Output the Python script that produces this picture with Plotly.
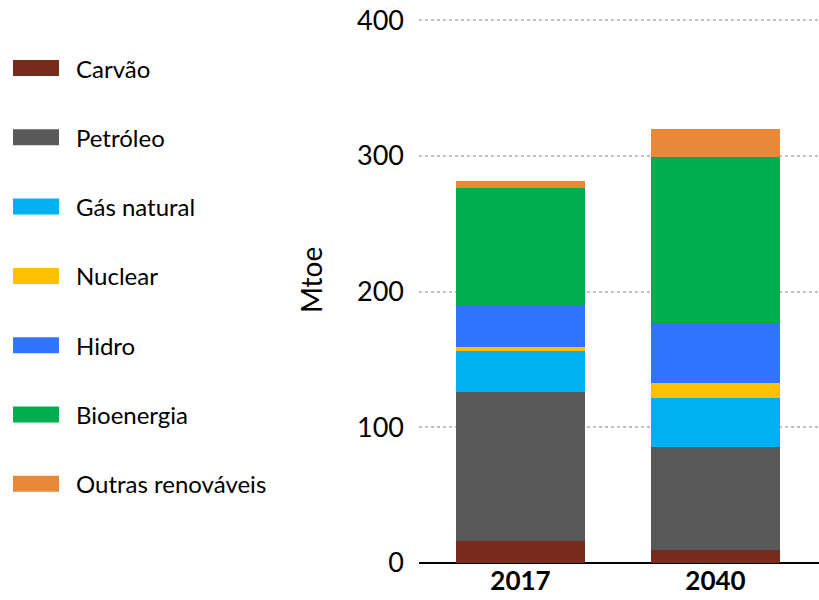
import plotly.graph_objects as go

# Oferta de energia primária (Mtoe)
years = ['2017', '2040']
fuels = ['Carvão', 'Petróleo', 'Gás natural', 'Nuclear', 'Hidro', 'Bioenergia', 'Outras renováveis']
colors = ['#772c1f', '#595959', '#00b0f0', '#ffc000', '#3075ff', '#00ae4f', '#e8893a']

carvao = [16.4, 9.8]
petroleo = [109.8, 75.4]
gas_natural = [30.2, 36.6]
nuclear = [3.0, 11.1]
hidro = [30.9, 44.2]
bioenergia = [86.3, 122.3]
outras = [5.1, 20.6]

series = [carvao, petroleo, gas_natural, nuclear, hidro, bioenergia, outras]

FONT = 'Lato, Calibri, sans-serif'

# plot area in page pixels
W, H = 819, 600
LEFT, RIGHT, TOP, BOTTOM = 419, 819, 19, 563
PW, PH = RIGHT - LEFT, BOTTOM - TOP


def px_x(x):
    return (x - LEFT) / PW


def px_y(y):
    return (BOTTOM - y) / PH


fig = go.Figure()
for name, vals, color in zip(fuels, series, colors):
    fig.add_trace(go.Bar(
        x=years, y=vals, name=name,
        marker=dict(color=color, line=dict(width=0)),
        showlegend=False
    ))

# legend drawn by hand (big swatches, wide spacing)
for i, (name, color) in enumerate(zip(fuels, colors)):
    yc = 68 + i * 69.3
    fig.add_shape(type='rect', xref='paper', yref='paper',
                  x0=px_x(13), x1=px_x(59),
                  y0=px_y(yc + 8), y1=px_y(yc - 8),
                  fillcolor=color, line=dict(width=0))
    fig.add_annotation(xref='paper', yref='paper',
                       x=px_x(74), y=px_y(yc),
                       text=name, showarrow=False, xanchor='left', yanchor='middle',
                       font=dict(family=FONT, size=24, color='#000000'))

# axis title
fig.add_annotation(xref='paper', yref='paper',
                   x=px_x(311), y=px_y(280),
                   text='Mtoe', textangle=-90, showarrow=False,
                   xanchor='center', yanchor='middle',
                   font=dict(family=FONT, size=28, color='#000000'))

fig.update_layout(
    barmode='stack',
    bargap=0.34,
    width=W, height=H,
    margin=dict(l=LEFT, r=W - RIGHT, t=TOP, b=H - BOTTOM, autoexpand=False),
    plot_bgcolor='white',
    paper_bgcolor='white',
    font=dict(family=FONT, color='#000000'),
)

fig.update_xaxes(
    type='category',
    automargin=False,
    range=[-0.5205, 1.5308],
    tickfont=dict(family=FONT, size=26, color='#000000', weight='bold'),
    ticklabeloverflow='allow',
    showgrid=False,
    showline=False,
    ticks='',
)

fig.update_yaxes(
    automargin=False,
    range=[0, 401],
    tickvals=[0, 100, 200, 300, 400],
    tickfont=dict(family=FONT, size=27, color='#000000'),
    ticklabeloverflow='allow',
    showgrid=True,
    gridcolor='#c0c0c0',
    griddash='dot',
    gridwidth=2,
    zeroline=True,
    zerolinecolor='#000000',
    zerolinewidth=2,
    showline=False,
    ticks='',
    ticklabelstandoff=14,
)

# drop the default body margin so the figure fills the window exactly
fig.write_html('out.html', config={'displayModeBar': False},
               post_script="document.body.style.margin='0';")
